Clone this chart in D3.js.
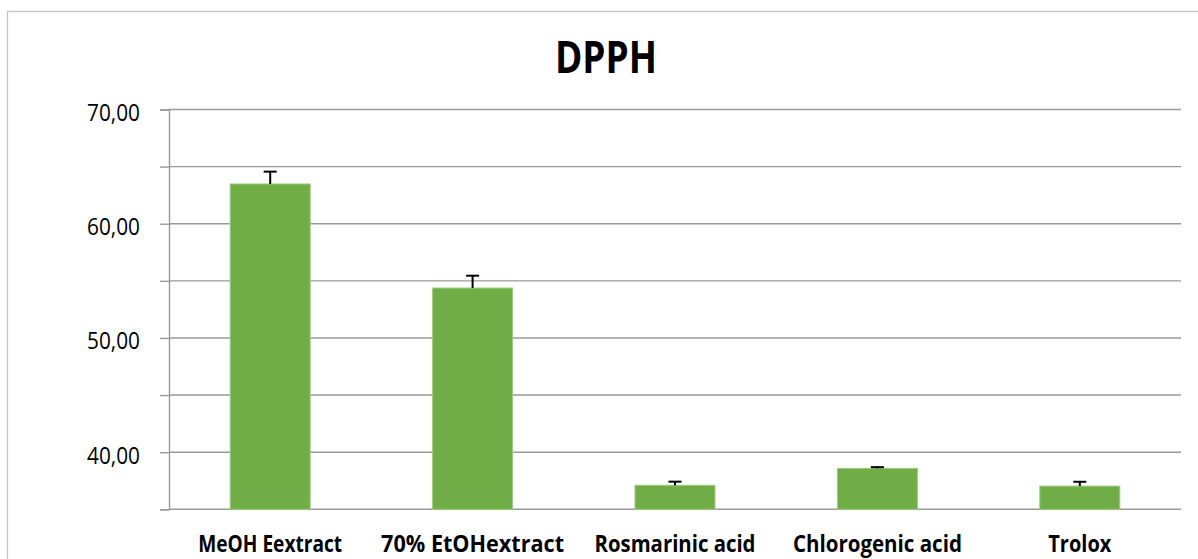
<!doctype html>
<html>
<head>
<meta charset="utf-8">
<style>
    body { margin: 0; background: #fff; }
    .bar { fill: #70ad47; stroke: #9cc97f; stroke-width: 1; }
    .grid line { stroke: #9a9a9a; stroke-width: 1.4; }
    .err { stroke: #000; stroke-width: 2; }
    text { font-family: "Open Sans", "Noto Sans", sans-serif; fill: #000; }
</style>
<script src="https://d3js.org/d3.v7.min.js"></script>
</head>
<body>
<svg id="svg" width="1198" height="559"></svg>
<script>
// data
var categories = ["MeOH Eextract", "70% EtOHextract", "Rosmarinic acid", "Chlorogenic acid", "Trolox"];
var values = [63.48, 54.37, 37.10, 38.58, 37.03];
var errors = [1.08, 1.08, 0.32, 0.11, 0.38];
var yTicks = [35, 40, 45, 50, 55, 60, 65, 70];
var yLabelled = [40, 50, 60, 70];
var title = "DPPH";

var svg = d3.select("#svg");
var plotLeft = 169, plotRight = 1181, plotTop = 109.5, plotBottom = 509.3;

// outer chart border
svg.append("rect")
    .attr("x", 7.5).attr("y", 11.5)
    .attr("width", 1200).attr("height", 600)
    .attr("fill", "none").attr("stroke", "#c3c3c3").attr("stroke-width", 1.2);

var xScale = d3.scaleBand().domain(categories).range([plotLeft, plotRight])
        .paddingInner(0.605).paddingOuter(0.3025),
    yScale = d3.scaleLinear().domain([35, 70]).range([plotBottom, plotTop]);

var comma = d3.formatLocale({decimal: ",", thousands: ".", grouping: [3], currency: ["", ""]}).format(".2f");

// gridlines
svg.append("g").attr("class", "grid")
    .selectAll("line").data(yTicks).enter().append("line")
    .attr("x1", plotLeft).attr("x2", plotRight)
    .attr("y1", function(d) { return yScale(d); })
    .attr("y2", function(d) { return yScale(d); });

// y axis
var yAxis = svg.append("g")
    .attr("transform", "translate(" + plotLeft + ",0)")
    .call(d3.axisLeft(yScale).tickValues(yTicks).tickSize(9).tickPadding(20)
        .tickFormat(function(d) { return yLabelled.indexOf(d) >= 0 ? comma(d) : ""; }));
yAxis.select(".domain").attr("stroke", "#9a9a9a").attr("stroke-width", 1.4);
yAxis.selectAll(".tick line").attr("stroke", "#9a9a9a").attr("stroke-width", 1.4);
yAxis.selectAll(".tick text")
    .attr("dy", 11)
    .style("font-family", "'Open Sans', sans-serif")
    .style("font-size", "24px")
    .attr("textLength", function() { return this.textContent ? 53 : null; })
    .attr("lengthAdjust", "spacingAndGlyphs");

// bars
svg.selectAll(".bar").data(values).enter().append("rect")
    .attr("class", "bar")
    .attr("x", function(d, i) { return xScale(categories[i]); })
    .attr("y", function(d) { return yScale(d); })
    .attr("width", xScale.bandwidth())
    .attr("height", function(d) { return plotBottom - yScale(d); });

// error bars (plus only)
var eb = svg.append("g");
values.forEach(function(v, i) {
    var cx = xScale(categories[i]) + xScale.bandwidth() / 2;
    eb.append("line").attr("class", "err")
        .attr("x1", cx).attr("x2", cx)
        .attr("y1", yScale(v)).attr("y2", yScale(v + errors[i]));
    eb.append("line").attr("class", "err")
        .attr("x1", cx - 6.5).attr("x2", cx + 6.5)
        .attr("y1", yScale(v + errors[i])).attr("y2", yScale(v + errors[i]));
});

// category labels
var labelWidths = {"MeOH Eextract": 144, "70% EtOHextract": 183, "Rosmarinic acid": 161, "Chlorogenic acid": 169, "Trolox": 63};
svg.append("g").selectAll("text").data(categories).enter().append("text")
    .attr("x", function(d) { return xScale(d) + xScale.bandwidth() / 2; })
    .attr("y", 551.5)
    .attr("text-anchor", "middle")
    .style("font-size", "23px")
    .style("font-weight", "bold")
    .attr("textLength", function(d) { return labelWidths[d]; })
    .attr("lengthAdjust", "spacingAndGlyphs")
    .text(function(d) { return d; });

// title
svg.append("text")
    .attr("x", 606).attr("y", 73.3)
    .attr("text-anchor", "middle")
    .style("font-size", "45px")
    .style("font-weight", "bold")
    .attr("textLength", 102)
    .attr("lengthAdjust", "spacingAndGlyphs")
    .text(title);
</script>
</body>
</html>
